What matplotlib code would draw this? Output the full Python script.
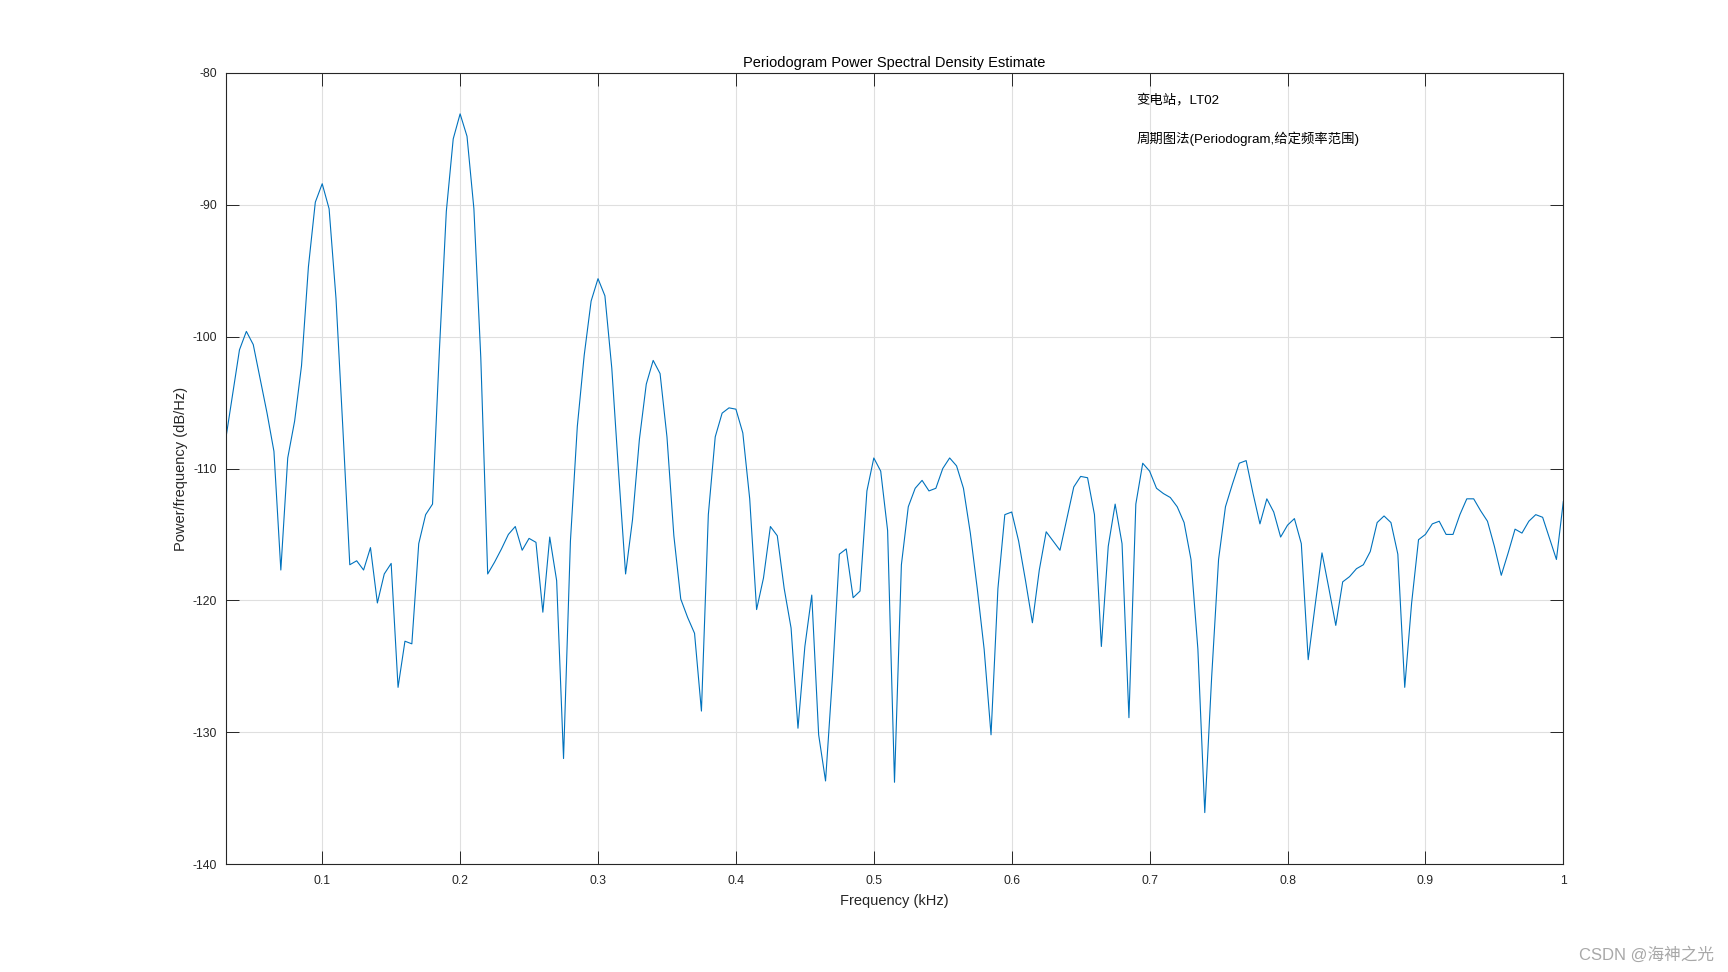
import numpy as np
import matplotlib
matplotlib.use("Agg")
import matplotlib.pyplot as plt

plt.rcParams['font.family'] = ['Liberation Sans', 'Noto Sans CJK SC', 'DejaVu Sans']
plt.rcParams['axes.unicode_minus'] = False

# frequency bins (kHz), 5 Hz spacing from 0.03 to 1.0
freq = np.round(np.arange(0.03, 1.0001, 0.005), 3)

# PSD estimate in dB/Hz
psd = [
    -107.8, -104.4, -101.0, -99.6, -100.6, -103.2, -105.8, -108.7, -117.7, -109.2,
    -106.4, -102.2, -94.7, -89.8, -88.4, -90.3, -97.1, -107.0, -117.3, -117.0,
    -117.7, -116.0, -120.2, -118.0, -117.2, -126.6, -123.1, -123.3, -115.7, -113.5,
    -112.7, -101.0, -90.5, -85.0, -83.1, -84.8, -90.3, -101.6, -118.0, -117.1,
    -116.1, -115.0, -114.4, -116.2, -115.3, -115.6, -120.9, -115.2, -118.5, -132.0,
    -115.5, -106.8, -101.4, -97.3, -95.6, -96.9, -102.4, -110.4, -118.0, -113.9,
    -107.8, -103.6, -101.8, -102.8, -107.6, -115.1, -119.9, -121.3, -122.5, -128.4,
    -113.5, -107.6, -105.8, -105.4, -105.5, -107.3, -112.3, -120.7, -118.3, -114.4,
    -115.1, -119.1, -122.1, -129.7, -123.5, -119.6, -130.2, -133.7, -125.8, -116.5,
    -116.1, -119.8, -119.3, -111.7, -109.2, -110.2, -114.7, -133.8, -117.3, -112.9,
    -111.5, -110.9, -111.7, -111.5, -110.0, -109.2, -109.8, -111.5, -114.9, -119.1,
    -123.7, -130.2, -119.1, -113.5, -113.3, -115.5, -118.5, -121.7, -117.7, -114.8,
    -115.5, -116.2, -113.8, -111.4, -110.6, -110.7, -113.5, -123.5, -115.9, -112.7,
    -115.7, -128.9, -112.7, -109.6, -110.2, -111.5, -111.9, -112.2, -112.9, -114.1,
    -116.9, -123.7, -136.1, -125.8, -116.9, -112.9, -111.2, -109.6, -109.4, -111.9,
    -114.2, -112.3, -113.3, -115.2, -114.3, -113.8, -115.7, -124.5, -120.4, -116.4,
    -119.1, -121.9, -118.6, -118.2, -117.6, -117.3, -116.3, -114.1, -113.6, -114.1,
    -116.5, -126.6, -120.2, -115.4, -115.0, -114.2, -114.0, -115.0, -115.0, -113.5,
    -112.3, -112.3, -113.2, -114.0, -115.9, -118.1, -116.4, -114.6, -114.9, -114.0,
    -113.5, -113.7, -115.3, -116.9, -112.5,
]

xticks = [0.1, 0.2, 0.3, 0.4, 0.5, 0.6, 0.7, 0.8, 0.9, 1.0]
xtick_labels = ['0.1', '0.2', '0.3', '0.4', '0.5', '0.6', '0.7', '0.8', '0.9', '1']
yticks = [-140, -130, -120, -110, -100, -90, -80]

dark = '#262626'

fig = plt.figure(figsize=(17.28, 9.72), dpi=100)
ax = fig.add_axes([0.1306, 0.1111, 0.7741, 0.8138])

ax.plot(freq, psd, color='#0072BD', linewidth=0.8)

ax.set_xlim(0.03, 1.0)
ax.set_ylim(-140, -80)
ax.set_xticks(xticks)
ax.set_xticklabels(xtick_labels)
ax.set_yticks(yticks)

ax.grid(True, color='#dfdfdf', linewidth=0.8)
ax.set_axisbelow(True)
ax.tick_params(direction='in', length=9.5, width=0.7, colors=dark, labelsize=8.8,
               top=True, right=True)
ax.tick_params(axis='x', pad=8)
ax.tick_params(axis='y', pad=6)
for s in ax.spines.values():
    s.set_color(dark)
    s.set_linewidth(0.8)

ax.set_title('Periodogram Power Spectral Density Estimate', fontsize=10.5, color='black', pad=4.3)
ax.set_xlabel('Frequency (kHz)', fontsize=10.5, color=dark, labelpad=5)
ax.set_ylabel('Power/frequency (dB/Hz)', fontsize=10.5, color=dark, labelpad=3.5)

ax.text(0.681, 0.9657, '变电站，LT02', transform=ax.transAxes, fontsize=9.6,
        color='black', va='center', ha='left')
ax.text(0.681, 0.9165, '周期图法(Periodogram,给定频率范围)', transform=ax.transAxes,
        fontsize=9.6, color='black', va='center', ha='left')

fig.text(0.992, 0.018, 'CSDN @海神之光', fontsize=12, color='#a8a8a8', ha='right', va='center')

fig.savefig('out.png', dpi=100, facecolor='white')
